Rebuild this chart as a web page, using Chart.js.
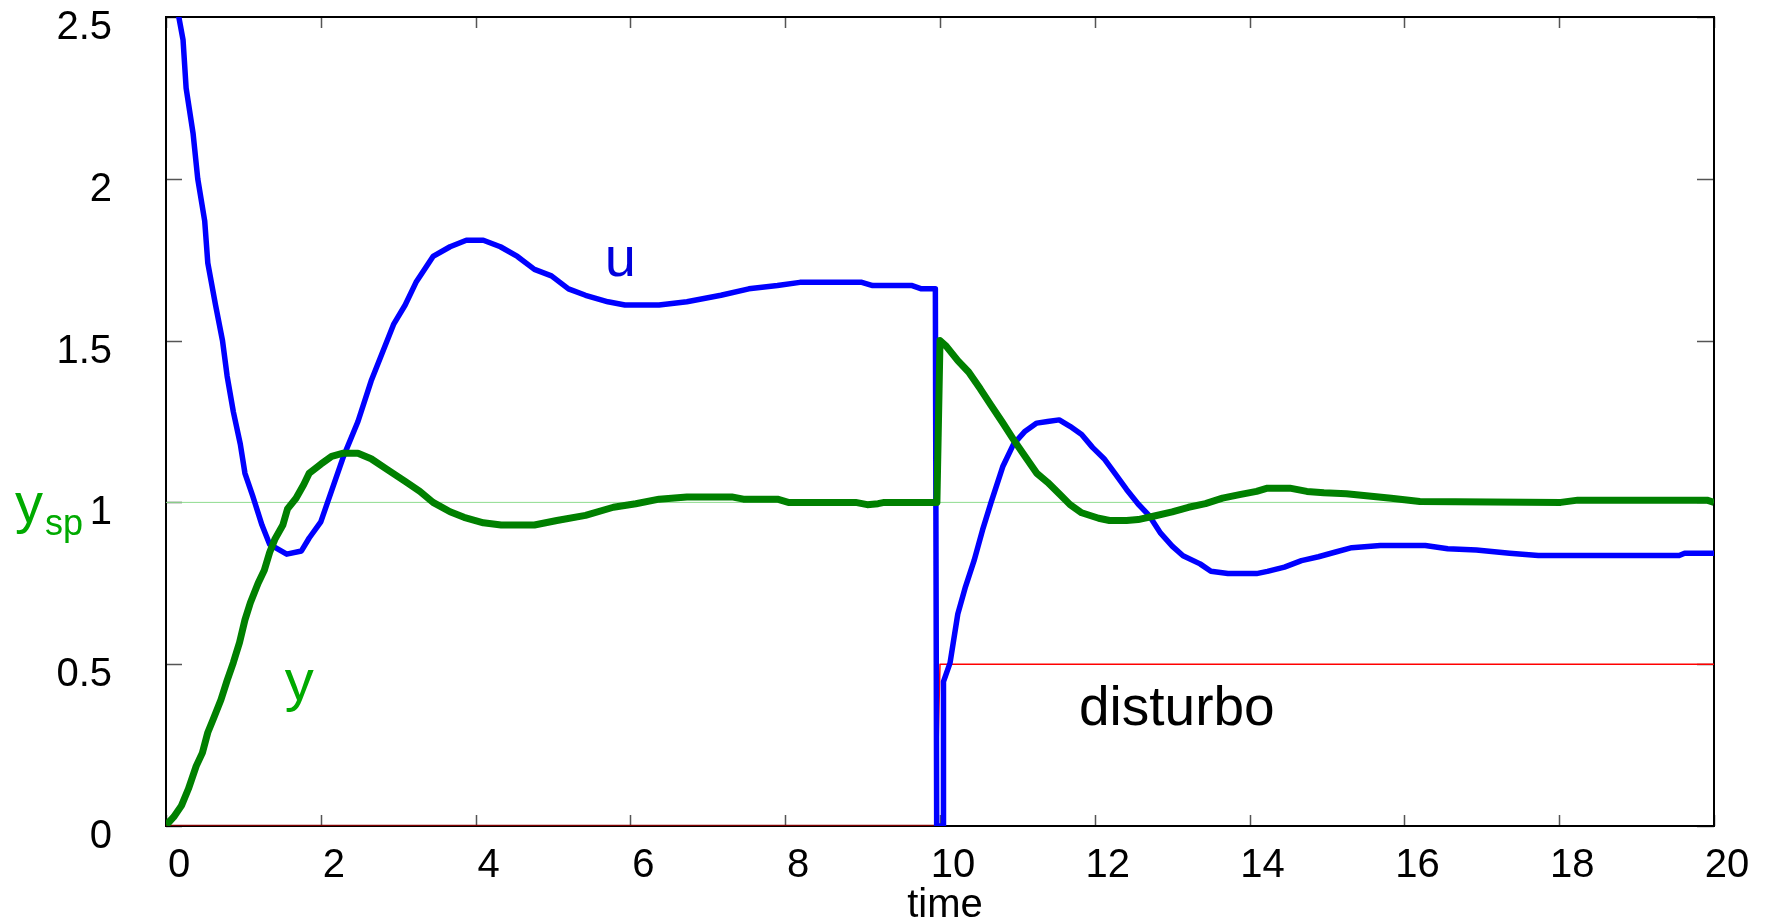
<!DOCTYPE html>
<html>
<head>
<meta charset="utf-8">
<title>u, y, disturbo</title>
<script src="https://cdn.jsdelivr.net/npm/chart.js@4.4.1/dist/chart.umd.min.js"></script>
<style>
  html, body { margin: 0; padding: 0; background: #fff; }
  #wrap { width: 1767px; height: 917px; position: relative; }
</style>
</head>
<body>
<div id="wrap"><canvas id="chart"></canvas></div>
<script>
// control signal u
const uTime = [0, 0.15, 0.22, 0.26, 0.35, 0.41, 0.5, 0.54, 0.64, 0.73, 0.79, 0.87, 0.96, 1.02, 1.12, 1.24, 1.34, 1.56, 1.75, 1.85,
  2.0, 2.16, 2.29, 2.48, 2.65, 2.94, 3.09, 3.23, 3.45, 3.67, 3.88, 4.1, 4.32, 4.54, 4.76, 4.98, 5.2, 5.42, 5.71, 5.93,
  6.37, 6.73, 7.17, 7.53, 7.9, 8.19, 8.99, 9.13, 9.64, 9.76, 9.94, 9.957, 10.04, 10.045, 10.13, 10.23, 10.33, 10.44, 10.55, 10.66,
  10.81, 10.95, 11.1, 11.25, 11.39, 11.54, 11.68, 11.83, 11.97, 12.12, 12.26, 12.41, 12.56, 12.7, 12.85, 13.0, 13.14, 13.36, 13.5, 13.72,
  14.09, 14.23, 14.45, 14.67, 14.89, 15.1, 15.32, 15.69, 16.27, 16.56, 16.93, 17.36, 17.73, 19.55, 19.62, 20];
const uValues = [2.85, 2.52, 2.43, 2.28, 2.14, 2.0, 1.87, 1.74, 1.61, 1.5, 1.39, 1.28, 1.18, 1.09, 1.02, 0.93, 0.87, 0.84, 0.85, 0.89,
  0.94, 1.05, 1.14, 1.25, 1.375, 1.55, 1.61, 1.68, 1.76, 1.79, 1.81, 1.81, 1.79, 1.76, 1.72, 1.7, 1.66, 1.64, 1.62, 1.61,
  1.61, 1.62, 1.64, 1.66, 1.67, 1.68, 1.68, 1.67, 1.67, 1.66, 1.66, 0, 0, 0.446, 0.504, 0.655, 0.74, 0.82, 0.915, 1.0,
  1.11, 1.18, 1.22, 1.245, 1.25, 1.255, 1.235, 1.21, 1.17, 1.135, 1.09, 1.04, 0.995, 0.96, 0.905, 0.865, 0.835, 0.81, 0.787, 0.78,
  0.78, 0.787, 0.8, 0.82, 0.832, 0.846, 0.86, 0.867, 0.867, 0.857, 0.853, 0.843, 0.836, 0.836, 0.843, 0.843];

// process output y
const yTime = [0, 0.03, 0.1, 0.2, 0.29, 0.39, 0.47, 0.54, 0.61, 0.71, 0.79, 0.87, 0.95, 1.02, 1.09, 1.19, 1.27, 1.34, 1.41, 1.51,
  1.57, 1.68, 1.78, 1.85, 2.0, 2.14, 2.29, 2.48, 2.65, 2.87, 3.09, 3.28, 3.45, 3.67, 3.85, 4.1, 4.33, 4.76, 5.05, 5.42,
  5.78, 6.07, 6.37, 6.73, 7.31, 7.46, 7.9, 8.04, 8.91, 9.06, 9.2, 9.28, 9.96, 10.0, 10.08, 10.23, 10.37, 10.52, 10.66, 10.81,
  10.95, 11.1, 11.25, 11.39, 11.54, 11.68, 11.83, 12.05, 12.19, 12.41, 12.56, 12.77, 13.0, 13.21, 13.43, 13.65, 13.87, 14.09, 14.23, 14.52,
  14.74, 14.96, 15.25, 15.54, 15.83, 16.2, 18.02, 18.24, 19.91, 20];
const yValues = [0.005, 0.01, 0.028, 0.063, 0.115, 0.185, 0.226, 0.289, 0.33, 0.39, 0.45, 0.505, 0.567, 0.637, 0.69, 0.75, 0.79, 0.846, 0.888, 0.93,
  0.98, 1.013, 1.055, 1.09, 1.118, 1.142, 1.152, 1.152, 1.135, 1.1, 1.065, 1.034, 1.0, 0.971, 0.954, 0.937, 0.93, 0.93, 0.944, 0.96,
  0.985, 0.996, 1.01, 1.017, 1.017, 1.01, 1.01, 1.0, 1.0, 0.993, 0.996, 1.0, 1.0, 1.5, 1.483, 1.438, 1.403, 1.351, 1.3, 1.246,
  1.194, 1.142, 1.09, 1.062, 1.027, 0.993, 0.968, 0.951, 0.944, 0.944, 0.947, 0.958, 0.971, 0.985, 0.996, 1.013, 1.024, 1.034, 1.044, 1.044,
  1.034, 1.03, 1.027, 1.02, 1.013, 1.003, 1.0, 1.007, 1.007, 1.0];

// set point and disturbance
const spTime = [0, 20];
const spValues = [1, 1];
const dTime = [0, 9.95, 10.0, 20];
const dValues = [0, 0, 0.5, 0.5];

const xTicks = [0, 2, 4, 6, 8, 10, 12, 14, 16, 18, 20];
const yTicks = [0, 0.5, 1, 1.5, 2, 2.5];

const FONT = "'Liberation Sans', Arial, Helvetica, sans-serif";

const toPoints = (t, v) => t.map((x, i) => ({ x: x, y: v[i] }));

// inward tick marks, frame and the text labels
const framePlugin = {
  id: "frame",
  beforeDatasetsDraw(chart) {
    const { ctx, chartArea: a, scales } = chart;
    ctx.save();
    ctx.strokeStyle = "#555";
    ctx.lineWidth = 1.5;
    ctx.beginPath();
    xTicks.forEach((v) => {
      const px = Math.round(scales.x.getPixelForValue(v)) + 0.5;
      ctx.moveTo(px, a.bottom); ctx.lineTo(px, a.bottom - 11);
      ctx.moveTo(px, a.top); ctx.lineTo(px, a.top + 11);
    });
    yTicks.forEach((v) => {
      const py = Math.round(scales.y.getPixelForValue(v)) + 0.5;
      ctx.moveTo(a.left, py); ctx.lineTo(a.left + 16, py);
      ctx.moveTo(a.right, py); ctx.lineTo(a.right - 17, py);
    });
    ctx.stroke();
    ctx.strokeStyle = "#000";
    ctx.lineWidth = 2;
    ctx.strokeRect(a.left, a.top, a.right - a.left, a.bottom - a.top);
    ctx.restore();
  },
  afterDraw(chart) {
    const { ctx, scales } = chart;
    const sx = (v) => scales.x.getPixelForValue(v);
    const sy = (v) => scales.y.getPixelForValue(v);
    ctx.save();
    ctx.textBaseline = "alphabetic";
    ctx.textAlign = "center";

    ctx.fillStyle = "#0000dd";
    ctx.font = "56px " + FONT;
    ctx.fillText("u", sx(5.87), sy(1.70));

    ctx.fillStyle = "#00aa00";
    ctx.font = "58px " + FONT;
    ctx.fillText("y", sx(1.72), sy(0.39));

    ctx.fillStyle = "#000";
    ctx.font = "55px " + FONT;
    ctx.fillText("disturbo", sx(13.06), sy(0.312));

    ctx.font = "40px " + FONT;
    ctx.fillText("time", 945, 917);

    // y_sp label next to the "1" tick
    ctx.textAlign = "left";
    ctx.fillStyle = "#00aa00";
    const base = sy(1) + 20;
    ctx.font = "56px " + FONT;
    ctx.fillText("y", 15, base);
    ctx.font = "36px " + FONT;
    ctx.fillText("sp", 45, base + 13);
    ctx.restore();
  }
};

new Chart(document.getElementById("chart"), {
  type: "line",
  data: {
    datasets: [
      {
        label: "y",
        data: toPoints(yTime, yValues),
        borderColor: "#008000",
        borderWidth: 7,
        order: 1
      },
      {
        label: "u",
        data: toPoints(uTime, uValues),
        borderColor: "#0000ff",
        borderWidth: 5.5,
        order: 2
      },
      {
        label: "disturbo",
        data: toPoints(dTime, dValues),
        borderColor: "#ff0000",
        borderWidth: 1.5,
        segment: {
          borderColor: (c) => (c.p0.parsed.y === 0 && c.p1.parsed.y === 0 ? "#800000" : undefined),
          borderWidth: (c) => (c.p0.parsed.y === 0 && c.p1.parsed.y === 0 ? 2.5 : undefined)
        },
        order: 3
      },
      {
        label: "ysp",
        data: toPoints(spTime, spValues),
        borderColor: "#8fdc8f",
        borderWidth: 1,
        order: 4
      }
    ]
  },
  options: {
    responsive: true,
    maintainAspectRatio: false,
    animation: false,
    parsing: false,
    layout: { padding: { top: 17, right: 53, bottom: 0, left: 0 } },
    elements: {
      point: { radius: 0 },
      line: { tension: 0, borderJoinStyle: "round", borderCapStyle: "butt" }
    },
    plugins: {
      legend: { display: false },
      tooltip: { enabled: false }
    },
    scales: {
      x: {
        type: "linear",
        min: 0,
        max: 20,
        grid: { display: false, drawTicks: false },
        border: { display: false },
        afterBuildTicks: (s) => { s.ticks = xTicks.map((v) => ({ value: v })); },
        afterFit: (s) => { s.height = 91; s.paddingLeft = 0; s.paddingRight = 0; },
        ticks: {
          color: "#000",
          font: { size: 40, family: FONT },
          padding: 16,
          labelOffset: 13,
          maxRotation: 0,
          autoSkip: false,
          callback: (v) => String(v)
        }
      },
      y: {
        type: "linear",
        min: 0,
        max: 2.5,
        grid: { display: false, drawTicks: false },
        border: { display: false },
        afterBuildTicks: (s) => { s.ticks = yTicks.map((v) => ({ value: v })); },
        afterFit: (s) => { s.width = 166; s.paddingTop = 0; s.paddingBottom = 0; },
        ticks: {
          color: "#000",
          font: { size: 40, family: FONT },
          padding: 54,
          labelOffset: 11,
          autoSkip: false,
          callback: (v) => String(v)
        }
      }
    }
  },
  plugins: [framePlugin]
});
</script>
</body>
</html>
